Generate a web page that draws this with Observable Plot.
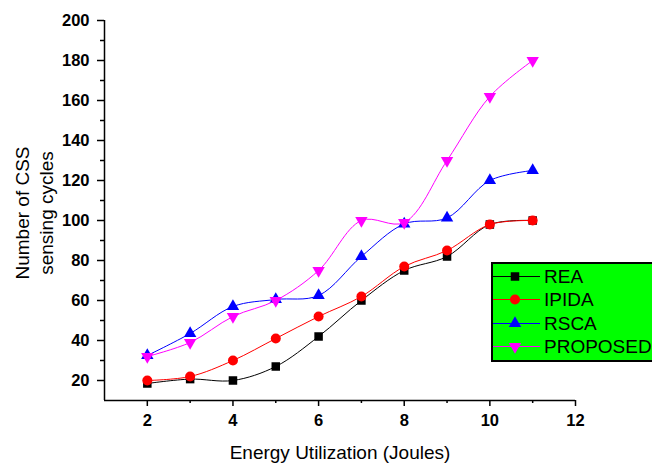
<!DOCTYPE html>
<html>
<head>
<meta charset="utf-8">
<script src="https://cdn.jsdelivr.net/npm/d3@7"></script>
<script src="https://cdn.jsdelivr.net/npm/@observablehq/plot@0.6"></script>
<style>
  html, body { margin: 0; padding: 0; background: #fff; }
  body { width: 652px; height: 464px; overflow: hidden; position: relative; font-family: "Liberation Sans", Arial, sans-serif; }
  #legend { position: absolute; left: 491px; top: 262px; width: 200px; height: 95px; background: #00ff00; border: 2px solid #000; padding-top: 1px; box-sizing: content-box; }
  .row { height: 23.3px; display: flex; align-items: center; white-space: nowrap; }
  .row svg { flex: none; }
  .row span { font-size: 19px; margin-left: 4px; color: #000; line-height: 1; }
</style>
</head>
<body>
<div id="chart"></div>
<div id="legend"></div>
<script>
const energy = [2, 3, 4, 5, 6, 7, 8, 9, 10, 11];
const rea = [18.5, 20.7, 20, 27, 42, 60, 75, 82, 98, 100];
const ipida = [20, 22, 30, 41, 52, 62, 77, 85, 98, 100];
const rsca = [32.5, 43.5, 57, 60.5, 62.5, 82, 98.3, 101.3, 120, 125];
const proposed = [32, 39, 52, 60, 75, 100, 99, 130, 162, 180];

const seriesNames = ["REA", "IPIDA", "RSCA", "PROPOSED"];
const seriesColors = ["#000000", "#ff0000", "#0000ff", "#ff00ff"];
const xMajor = [2, 4, 6, 8, 10, 12];
const xMinor = [3, 5, 7, 9, 11];
const yMajor = [20, 40, 60, 80, 100, 120, 140, 160, 180, 200];
const yMinor = [30, 50, 70, 90, 110, 130, 150, 170, 190];
const xLabel = "Energy Utilization (Joules)";
const yLabel = "Number of CSS\nsensing cycles";

const triangleDown = {
  draw(context, size) {
    const y = -Math.sqrt(size / (Math.sqrt(3) * 3));
    context.moveTo(0, -y * 2);
    context.lineTo(-Math.sqrt(3) * y, y);
    context.lineTo(Math.sqrt(3) * y, y);
    context.closePath();
  }
};
const seriesSymbols = ["square", "circle", "triangle", triangleDown];
const seriesR = [4.8, 5, 4.6, 4.6];

const allValues = [rea, ipida, rsca, proposed];
const data = [];
seriesNames.forEach((name, i) => {
  energy.forEach((e, j) => data.push({series: name, x: e, y: allValues[i][j], idx: i}));
});

const font = '"Liberation Sans", Arial, sans-serif';
const marks = [
  Plot.ruleX([1], {y1: 10, y2: 200, stroke: "#000", strokeWidth: 1.5}),
  Plot.ruleY([10], {x1: 1, x2: 12, stroke: "#000", strokeWidth: 1.5}),
  Plot.axisY(yMajor, {tickSize: 7, tickPadding: 8, fontSize: 16.5, fontWeight: "bold", label: null, strokeWidth: 1.5, fill: "#000"}),
  Plot.axisY(yMinor, {tickSize: 4, text: null, label: null, strokeWidth: 1.5}),
  Plot.axisX(xMajor, {tickSize: 6, tickPadding: 8, fontSize: 16.5, fontWeight: "bold", label: null, strokeWidth: 1.5, fill: "#000"}),
  Plot.axisX(xMinor, {tickSize: 3, text: null, label: null, strokeWidth: 1.5}),
];
seriesNames.forEach((name, i) => {
  const d = data.filter(p => p.series === name);
  marks.push(Plot.line(d, {x: "x", y: "y", stroke: seriesColors[i], strokeWidth: 1, curve: "catmull-rom"}));
  marks.push(Plot.dot(d, {x: "x", y: "y", symbol: () => seriesSymbols[i], r: seriesR[i], fill: seriesColors[i], stroke: "none"}));
});
marks.push(Plot.text([xLabel], {frameAnchor: "bottom", dy: 58, lineAnchor: "bottom", fontSize: 19, fill: "#000"}));
marks.push(Plot.text([yLabel], {frameAnchor: "left", rotate: -90, dx: -71, dy: 2.5, lineAnchor: "middle", textAnchor: "middle", lineHeight: 1.22, fontSize: 19, fill: "#000"}));

const chart = Plot.plot({
  width: 652,
  height: 464,
  marginLeft: 104,
  marginRight: 77,
  marginTop: 20,
  marginBottom: 64,
  style: {fontFamily: font, background: "#fff", color: "#000"},
  x: {domain: [1, 12], axis: null},
  y: {domain: [10, 200], axis: null},
  symbol: {type: "identity"},
  marks
});
document.getElementById("chart").appendChild(chart);

// Legend
const legend = document.getElementById("legend");
seriesNames.forEach((name, i) => {
  const row = document.createElement("div");
  row.className = "row";
  const svgNS = "http://www.w3.org/2000/svg";
  const svg = document.createElementNS(svgNS, "svg");
  svg.setAttribute("width", 47);
  svg.setAttribute("height", 23);
  const line = document.createElementNS(svgNS, "line");
  line.setAttribute("x1", 0); line.setAttribute("x2", 47);
  line.setAttribute("y1", 11.5); line.setAttribute("y2", 11.5);
  line.setAttribute("stroke", seriesColors[i]); line.setAttribute("stroke-width", 1);
  svg.appendChild(line);
  const path = document.createElementNS(svgNS, "path");
  const sym = typeof seriesSymbols[i] === "string"
    ? {square: d3.symbolSquare, circle: d3.symbolCircle, triangle: d3.symbolTriangle}[seriesSymbols[i]]
    : seriesSymbols[i];
  path.setAttribute("d", d3.symbol(sym, Math.PI * seriesR[i] * seriesR[i])());
  path.setAttribute("transform", "translate(22,11.5)");
  path.setAttribute("fill", seriesColors[i]);
  svg.appendChild(path);
  row.appendChild(svg);
  const span = document.createElement("span");
  span.textContent = name;
  row.appendChild(span);
  legend.appendChild(row);
});
</script>
</body>
</html>
